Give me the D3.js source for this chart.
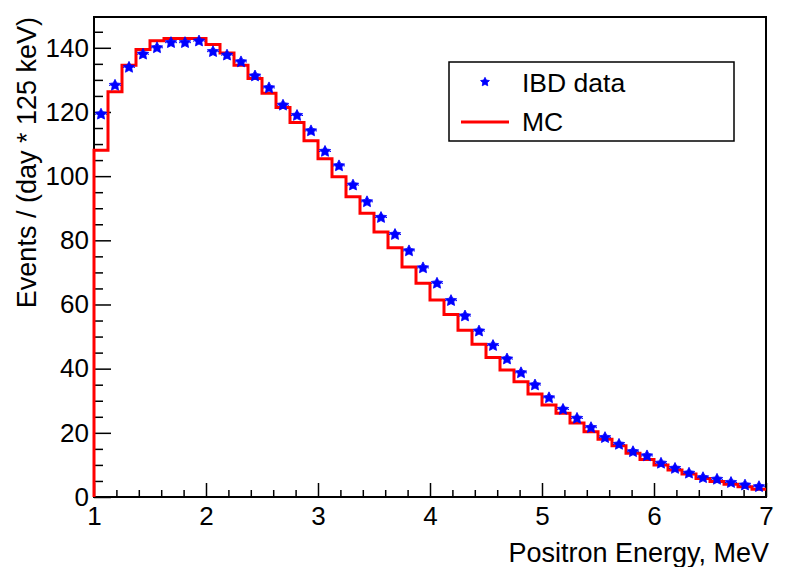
<!DOCTYPE html>
<html>
<head>
<meta charset="utf-8">
<script src="https://cdn.jsdelivr.net/npm/d3@7"></script>
<style>
  body { margin: 0; background: #fff; }
  text { font-family: "Liberation Sans", Arial, sans-serif; fill: #000; }
</style>
</head>
<body>
<div id="chart"></div>
<script>
// bins of 125 keV from 1 to 7 MeV
const binEdges = d3.range(48).map(i => 1 + i * 0.125);
const binWidth = 0.125;

// IBD data, events / (day * 125 keV), one per bin
const ibdData = [
  119.3, 128.3, 133.9, 138.0, 140.0, 141.6, 141.6, 142.1,
  138.8, 137.7, 135.6, 131.2, 127.5, 122.1, 118.9, 114.1,
  107.7, 103.2, 97.2, 92.0, 87.1, 81.8, 76.7, 71.4,
  66.6, 61.2, 56.4, 51.7, 47.2, 43.0, 38.7, 34.9,
  30.9, 27.3, 24.5, 21.6, 18.5, 16.4, 14.1, 12.8,
  10.5, 8.9, 7.4, 6.0, 5.5, 4.5, 3.7, 3.2
];

// MC histogram, one per bin
const mcData = [
  108.1, 126.3, 134.6, 139.5, 142.2, 142.9, 142.9, 142.9,
  141.0, 138.4, 134.6, 130.4, 125.8, 121.4, 116.7, 111.0,
  105.4, 99.8, 93.6, 88.4, 82.6, 77.7, 71.7, 66.6,
  61.4, 56.9, 52.0, 47.6, 43.5, 39.6, 35.9, 32.1,
  28.7, 26.1, 23.1, 20.3, 18.0, 16.0, 13.6, 11.7,
  10.0, 8.4, 7.2, 5.8, 4.8, 4.0, 3.2, 2.4
];

const xTicks = [1, 2, 3, 4, 5, 6, 7];
const yTicks = [0, 20, 40, 60, 80, 100, 120, 140];
const legendLabels = ["IBD data", "MC"];

const W = 790, H = 567;
const frame = { left: 94, right: 766, top: 17, bottom: 497 };

const svg = d3.select("#chart").append("svg")
  .attr("width", W)
  .attr("height", H);

const x = d3.scaleLinear().domain([1, 7]).range([frame.left, frame.right]);
const y = d3.scaleLinear().domain([0, 149.6]).range([frame.bottom, frame.top]);

// chunky five-point star like the ROOT full-star marker
const fatStar = {
  draw(ctx, size) {
    const r = Math.sqrt(size), ri = r * 0.5;
    for (let i = 0; i < 10; i++) {
      const a = -Math.PI / 2 + i * Math.PI / 5;
      const rr = i % 2 ? ri : r;
      if (i === 0) ctx.moveTo(rr * Math.cos(a), rr * Math.sin(a));
      else ctx.lineTo(rr * Math.cos(a), rr * Math.sin(a));
    }
    ctx.closePath();
  }
};

// minor ticks
const xMinor = d3.range(1, 7.001, 0.2).filter(v => Math.abs(v - Math.round(v)) > 1e-6);
const yMinor = d3.range(0, 149, 5).filter(v => v % 20 !== 0);

svg.append("g")
  .attr("transform", `translate(0,${frame.bottom})`)
  .call(d3.axisBottom(x).tickValues(xMinor).tickSize(-7).tickFormat(""))
  .call(g => g.select(".domain").remove());

svg.append("g")
  .attr("transform", `translate(${frame.left},0)`)
  .call(d3.axisLeft(y).tickValues(yMinor).tickSize(-9).tickFormat(""))
  .call(g => g.select(".domain").remove());

svg.append("g")
  .attr("transform", `translate(0,${frame.bottom})`)
  .call(d3.axisBottom(x).tickValues(xTicks).tickSize(-14).tickPadding(10).tickFormat(d3.format("d")))
  .call(g => g.select(".domain").remove());

svg.append("g")
  .attr("transform", `translate(${frame.left},0)`)
  .call(d3.axisLeft(y).tickValues(yTicks).tickSize(-17).tickPadding(5).tickFormat(d3.format("d")))
  .call(g => g.select(".domain").remove());

svg.selectAll(".tick line").attr("stroke", "#000").attr("stroke-width", 1.5);
svg.selectAll(".tick text")
  .style("font-family", '"Liberation Sans", Arial, sans-serif')
  .style("font-size", "26px")
  .attr("fill", "#000");

// frame
svg.append("rect")
  .attr("x", frame.left)
  .attr("y", frame.top)
  .attr("width", frame.right - frame.left)
  .attr("height", frame.bottom - frame.top)
  .attr("fill", "none")
  .attr("stroke", "#000")
  .attr("stroke-width", 2);

// MC step histogram
const stepPts = [[1, 0]].concat(binEdges.map((e, i) => [e, mcData[i]]), [[7, mcData[mcData.length - 1]]]);
const step = d3.line()
  .x(d => x(d[0]))
  .y(d => y(d[1]))
  .curve(d3.curveStepAfter);

svg.append("path")
  .datum(stepPts)
  .attr("d", step)
  .attr("fill", "none")
  .attr("stroke", "#ff0000")
  .attr("stroke-width", 3);

// IBD data: error bars + stars
const points = binEdges.map((e, i) => ({ lo: e, hi: e + binWidth, c: e + binWidth / 2, v: ibdData[i] }));

svg.append("g").selectAll("line")
  .data(points)
  .join("line")
  .attr("x1", d => x(d.lo) + 1)
  .attr("x2", d => x(d.hi) - 1)
  .attr("y1", d => y(d.v))
  .attr("y2", d => y(d.v))
  .attr("stroke", "#0000ff")
  .attr("stroke-width", 1)
  .attr("stroke-dasharray", "1.5,9,1.5");

const star = d3.symbol().type(fatStar).size(36);

svg.append("g").selectAll("path")
  .data(points)
  .join("path")
  .attr("transform", d => `translate(${x(d.c)},${y(d.v)})`)
  .attr("d", star)
  .attr("fill", "#0000ff")
  .attr("stroke", "#0000ff")
  .attr("stroke-width", 0.8);

// axis titles
svg.append("text")
  .attr("x", 769)
  .attr("y", 562)
  .attr("text-anchor", "end")
  .style("font-size", "27px")
  .text("Positron Energy, MeV");

svg.append("text")
  .attr("transform", "translate(36,17) rotate(-90)")
  .attr("text-anchor", "end")
  .style("font-size", "27px")
  .text("Events / (day * 125 keV)");

// legend
const legend = svg.append("g");
legend.append("rect")
  .attr("x", 449).attr("y", 62)
  .attr("width", 285).attr("height", 79)
  .attr("fill", "#fff")
  .attr("stroke", "#000")
  .attr("stroke-width", 1.5);

legend.append("path")
  .attr("transform", "translate(485,82)")
  .attr("d", d3.symbol().type(fatStar).size(22))
  .attr("fill", "#0000ff")
  .attr("stroke", "#0000ff")
  .attr("stroke-width", 0.8);

legend.append("line")
  .attr("x1", 461).attr("x2", 509)
  .attr("y1", 122).attr("y2", 122)
  .attr("stroke", "#ff0000")
  .attr("stroke-width", 3);

legend.selectAll("text.lab")
  .data(legendLabels)
  .join("text")
  .attr("class", "lab")
  .attr("x", 522)
  .attr("y", (d, i) => 92 + i * 39)
  .style("font-size", "26.5px")
  .text(d => d);
</script>
</body>
</html>
